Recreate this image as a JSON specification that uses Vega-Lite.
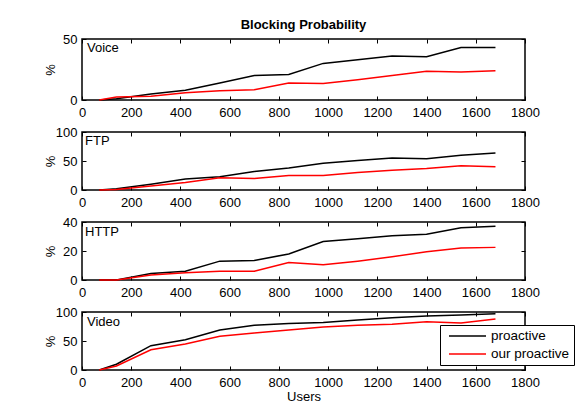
{
  "$schema": "https://vega.github.io/schema/vega-lite/v6.json",
  "padding": {"left": 43, "top": 18, "right": 0, "bottom": 0},
  "spacing": 5,
  "data": {"values": [
    {"service":"Voice","scheme":"proactive","users":70,"value":0},
    {"service":"Voice","scheme":"proactive","users":140,"value":1},
    {"service":"Voice","scheme":"proactive","users":280,"value":5},
    {"service":"Voice","scheme":"proactive","users":420,"value":8},
    {"service":"Voice","scheme":"proactive","users":560,"value":14},
    {"service":"Voice","scheme":"proactive","users":700,"value":20},
    {"service":"Voice","scheme":"proactive","users":840,"value":21},
    {"service":"Voice","scheme":"proactive","users":980,"value":30},
    {"service":"Voice","scheme":"proactive","users":1120,"value":33},
    {"service":"Voice","scheme":"proactive","users":1260,"value":36},
    {"service":"Voice","scheme":"proactive","users":1400,"value":35.5},
    {"service":"Voice","scheme":"proactive","users":1540,"value":43},
    {"service":"Voice","scheme":"proactive","users":1680,"value":43},
    {"service":"Voice","scheme":"our proactive","users":70,"value":0},
    {"service":"Voice","scheme":"our proactive","users":140,"value":2.5},
    {"service":"Voice","scheme":"our proactive","users":280,"value":3},
    {"service":"Voice","scheme":"our proactive","users":420,"value":6},
    {"service":"Voice","scheme":"our proactive","users":560,"value":7.5},
    {"service":"Voice","scheme":"our proactive","users":700,"value":8.5},
    {"service":"Voice","scheme":"our proactive","users":840,"value":14},
    {"service":"Voice","scheme":"our proactive","users":980,"value":13.5},
    {"service":"Voice","scheme":"our proactive","users":1120,"value":16.5},
    {"service":"Voice","scheme":"our proactive","users":1260,"value":20},
    {"service":"Voice","scheme":"our proactive","users":1400,"value":23.5},
    {"service":"Voice","scheme":"our proactive","users":1540,"value":23},
    {"service":"Voice","scheme":"our proactive","users":1680,"value":24},
    {"service":"FTP","scheme":"proactive","users":70,"value":0},
    {"service":"FTP","scheme":"proactive","users":140,"value":2},
    {"service":"FTP","scheme":"proactive","users":280,"value":10},
    {"service":"FTP","scheme":"proactive","users":420,"value":19},
    {"service":"FTP","scheme":"proactive","users":560,"value":23},
    {"service":"FTP","scheme":"proactive","users":700,"value":32},
    {"service":"FTP","scheme":"proactive","users":840,"value":38},
    {"service":"FTP","scheme":"proactive","users":980,"value":46},
    {"service":"FTP","scheme":"proactive","users":1120,"value":51},
    {"service":"FTP","scheme":"proactive","users":1260,"value":55},
    {"service":"FTP","scheme":"proactive","users":1400,"value":54},
    {"service":"FTP","scheme":"proactive","users":1540,"value":60},
    {"service":"FTP","scheme":"proactive","users":1680,"value":64},
    {"service":"FTP","scheme":"our proactive","users":70,"value":0},
    {"service":"FTP","scheme":"our proactive","users":140,"value":1},
    {"service":"FTP","scheme":"our proactive","users":280,"value":7},
    {"service":"FTP","scheme":"our proactive","users":420,"value":13},
    {"service":"FTP","scheme":"our proactive","users":560,"value":21},
    {"service":"FTP","scheme":"our proactive","users":700,"value":20},
    {"service":"FTP","scheme":"our proactive","users":840,"value":25},
    {"service":"FTP","scheme":"our proactive","users":980,"value":25},
    {"service":"FTP","scheme":"our proactive","users":1120,"value":30},
    {"service":"FTP","scheme":"our proactive","users":1260,"value":34},
    {"service":"FTP","scheme":"our proactive","users":1400,"value":37},
    {"service":"FTP","scheme":"our proactive","users":1540,"value":42},
    {"service":"FTP","scheme":"our proactive","users":1680,"value":40},
    {"service":"HTTP","scheme":"proactive","users":70,"value":0},
    {"service":"HTTP","scheme":"proactive","users":140,"value":0},
    {"service":"HTTP","scheme":"proactive","users":280,"value":4.5},
    {"service":"HTTP","scheme":"proactive","users":420,"value":6},
    {"service":"HTTP","scheme":"proactive","users":560,"value":13},
    {"service":"HTTP","scheme":"proactive","users":700,"value":13.5},
    {"service":"HTTP","scheme":"proactive","users":840,"value":18},
    {"service":"HTTP","scheme":"proactive","users":980,"value":26.5},
    {"service":"HTTP","scheme":"proactive","users":1120,"value":28.5},
    {"service":"HTTP","scheme":"proactive","users":1260,"value":30.5},
    {"service":"HTTP","scheme":"proactive","users":1400,"value":31.5},
    {"service":"HTTP","scheme":"proactive","users":1540,"value":36},
    {"service":"HTTP","scheme":"proactive","users":1680,"value":37},
    {"service":"HTTP","scheme":"our proactive","users":70,"value":0},
    {"service":"HTTP","scheme":"our proactive","users":140,"value":0},
    {"service":"HTTP","scheme":"our proactive","users":280,"value":3.5},
    {"service":"HTTP","scheme":"our proactive","users":420,"value":5},
    {"service":"HTTP","scheme":"our proactive","users":560,"value":6},
    {"service":"HTTP","scheme":"our proactive","users":700,"value":6},
    {"service":"HTTP","scheme":"our proactive","users":840,"value":12},
    {"service":"HTTP","scheme":"our proactive","users":980,"value":10.5},
    {"service":"HTTP","scheme":"our proactive","users":1120,"value":13},
    {"service":"HTTP","scheme":"our proactive","users":1260,"value":16},
    {"service":"HTTP","scheme":"our proactive","users":1400,"value":19.5},
    {"service":"HTTP","scheme":"our proactive","users":1540,"value":22},
    {"service":"HTTP","scheme":"our proactive","users":1680,"value":22.5},
    {"service":"Video","scheme":"proactive","users":70,"value":0},
    {"service":"Video","scheme":"proactive","users":140,"value":10},
    {"service":"Video","scheme":"proactive","users":280,"value":42},
    {"service":"Video","scheme":"proactive","users":420,"value":52},
    {"service":"Video","scheme":"proactive","users":560,"value":69},
    {"service":"Video","scheme":"proactive","users":700,"value":77},
    {"service":"Video","scheme":"proactive","users":840,"value":80},
    {"service":"Video","scheme":"proactive","users":980,"value":82},
    {"service":"Video","scheme":"proactive","users":1120,"value":86},
    {"service":"Video","scheme":"proactive","users":1260,"value":90},
    {"service":"Video","scheme":"proactive","users":1400,"value":93},
    {"service":"Video","scheme":"proactive","users":1540,"value":95},
    {"service":"Video","scheme":"proactive","users":1680,"value":97},
    {"service":"Video","scheme":"our proactive","users":70,"value":0},
    {"service":"Video","scheme":"our proactive","users":140,"value":7},
    {"service":"Video","scheme":"our proactive","users":280,"value":35},
    {"service":"Video","scheme":"our proactive","users":420,"value":45},
    {"service":"Video","scheme":"our proactive","users":560,"value":58},
    {"service":"Video","scheme":"our proactive","users":700,"value":64},
    {"service":"Video","scheme":"our proactive","users":840,"value":69},
    {"service":"Video","scheme":"our proactive","users":980,"value":74},
    {"service":"Video","scheme":"our proactive","users":1120,"value":77},
    {"service":"Video","scheme":"our proactive","users":1260,"value":79},
    {"service":"Video","scheme":"our proactive","users":1400,"value":83},
    {"service":"Video","scheme":"our proactive","users":1540,"value":81},
    {"service":"Video","scheme":"our proactive","users":1680,"value":88}
  ]},
  "resolve": {"legend": {"color": "independent"}},
  "vconcat": [
    {
      "width": 443, "height": 61,
      "title": {"text": "Blocking Probability", "frame": "group", "anchor": "middle", "fontSize": 13, "fontWeight": "bold", "font": "Liberation Sans", "color": "black", "offset": 1},
      "resolve": {"axis": {"x": "independent", "y": "independent"}},
      "layer": [
        {
          "transform": [{"filter": "datum.service === 'Voice'"}],
          "mark": {"type": "line", "strokeWidth": 1.5},
          "encoding": {
            "x": {"field": "users", "type": "quantitative", "scale": {"domain": [0, 1800]}, "axis": {"values": [0,200,400,600,800,1000,1200,1400,1600,1800], "format": "d", "labelPadding": 10, "title": null}},
            "y": {"field": "value", "type": "quantitative", "scale": {"domain": [0, 50]}, "axis": {"values": [0, 50], "labelPadding": 9, "title": "%", "minExtent": 25, "maxExtent": 25, "titlePadding": 0}},
            "color": {"field": "scheme", "type": "nominal", "scale": {"domain": ["proactive", "our proactive"], "range": ["black", "red"]}, "legend": null}
          }
        },
        {
          "data": {"values": [{"label": "Voice"}]},
          "mark": {"type": "text", "align": "left", "baseline": "top", "dx": 5, "dy": 3, "fontSize": 13, "font": "Liberation Sans", "color": "black"},
          "encoding": {
            "x": {"datum": 0, "type": "quantitative", "axis": {"orient": "top", "values": [0,200,400,600,800,1000,1200,1400,1600,1800], "labels": false, "title": null}},
            "y": {"datum": 50, "type": "quantitative", "axis": {"orient": "right", "values": [0, 50], "labels": false, "title": null}},
            "text": {"field": "label"}
          }
        }
      ]
    },
    {
      "width": 443, "height": 58,
      "resolve": {"axis": {"x": "independent", "y": "independent"}},
      "layer": [
        {
          "transform": [{"filter": "datum.service === 'FTP'"}],
          "mark": {"type": "line", "strokeWidth": 1.5},
          "encoding": {
            "x": {"field": "users", "type": "quantitative", "scale": {"domain": [0, 1800]}, "axis": {"values": [0,200,400,600,800,1000,1200,1400,1600,1800], "format": "d", "labelPadding": 10, "title": null}},
            "y": {"field": "value", "type": "quantitative", "scale": {"domain": [0, 100]}, "axis": {"values": [0, 50, 100], "labelPadding": 9, "title": "%", "minExtent": 25, "maxExtent": 25, "titlePadding": 0}},
            "color": {"field": "scheme", "type": "nominal", "scale": {"domain": ["proactive", "our proactive"], "range": ["black", "red"]}, "legend": null}
          }
        },
        {
          "data": {"values": [{"label": "FTP"}]},
          "mark": {"type": "text", "align": "left", "baseline": "top", "dx": 3, "dy": 3, "fontSize": 13, "font": "Liberation Sans", "color": "black"},
          "encoding": {
            "x": {"datum": 0, "type": "quantitative", "axis": {"orient": "top", "values": [0,200,400,600,800,1000,1200,1400,1600,1800], "labels": false, "title": null}},
            "y": {"datum": 100, "type": "quantitative", "axis": {"orient": "right", "values": [0, 50, 100], "labels": false, "title": null}},
            "text": {"field": "label"}
          }
        }
      ]
    },
    {
      "width": 443, "height": 58,
      "resolve": {"axis": {"x": "independent", "y": "independent"}},
      "layer": [
        {
          "transform": [{"filter": "datum.service === 'HTTP'"}],
          "mark": {"type": "line", "strokeWidth": 1.5},
          "encoding": {
            "x": {"field": "users", "type": "quantitative", "scale": {"domain": [0, 1800]}, "axis": {"values": [0,200,400,600,800,1000,1200,1400,1600,1800], "format": "d", "labelPadding": 10, "title": null}},
            "y": {"field": "value", "type": "quantitative", "scale": {"domain": [0, 40]}, "axis": {"values": [0, 20, 40], "labelPadding": 9, "title": "%", "minExtent": 25, "maxExtent": 25, "titlePadding": 0}},
            "color": {"field": "scheme", "type": "nominal", "scale": {"domain": ["proactive", "our proactive"], "range": ["black", "red"]}, "legend": null}
          }
        },
        {
          "data": {"values": [{"label": "HTTP"}]},
          "mark": {"type": "text", "align": "left", "baseline": "top", "dx": 3, "dy": 4, "fontSize": 13, "font": "Liberation Sans", "color": "black"},
          "encoding": {
            "x": {"datum": 0, "type": "quantitative", "axis": {"orient": "top", "values": [0,200,400,600,800,1000,1200,1400,1600,1800], "labels": false, "title": null}},
            "y": {"datum": 40, "type": "quantitative", "axis": {"orient": "right", "values": [0, 20, 40], "labels": false, "title": null}},
            "text": {"field": "label"}
          }
        }
      ]
    },
    {
      "width": 443, "height": 58,
      "resolve": {"axis": {"x": "independent", "y": "independent"}},
      "layer": [
        {
          "transform": [{"filter": "datum.service === 'Video'"}],
          "mark": {"type": "line", "strokeWidth": 1.5},
          "encoding": {
            "x": {"field": "users", "type": "quantitative", "scale": {"domain": [0, 1800]}, "axis": {"values": [0,200,400,600,800,1000,1200,1400,1600,1800], "format": "d", "labelPadding": 10, "title": "Users", "titlePadding": 1}},
            "y": {"field": "value", "type": "quantitative", "scale": {"domain": [0, 100]}, "axis": {"values": [0, 50, 100], "labelPadding": 9, "title": "%", "minExtent": 25, "maxExtent": 25, "titlePadding": 0}},
            "color": {"field": "scheme", "type": "nominal", "scale": {"domain": ["proactive", "our proactive"], "range": ["black", "red"]},
              "legend": {"orient": "none", "legendX": 358, "legendY": 13, "title": null, "symbolType": "stroke", "symbolSize": 1369, "symbolStrokeWidth": 1.5, "symbolOffset": 4, "labelFontSize": 13.5, "labelFont": "Liberation Sans", "labelColor": "black", "strokeColor": "black", "fillColor": "white", "padding": 4, "labelOffset": 4, "rowPadding": 4, "offset": 0,
                "encode": {"symbols": {"update": {"y": {"value": 7}}}, "labels": {"update": {"y": {"value": 7}}}}}}
          }
        },
        {
          "data": {"values": [{"label": "Video"}]},
          "mark": {"type": "text", "align": "left", "baseline": "top", "dx": 5, "dy": 4, "fontSize": 13, "font": "Liberation Sans", "color": "black"},
          "encoding": {
            "x": {"datum": 0, "type": "quantitative", "axis": {"orient": "top", "values": [0,200,400,600,800,1000,1200,1400,1600,1800], "labels": false, "title": null}},
            "y": {"datum": 100, "type": "quantitative", "axis": {"orient": "right", "values": [0, 50, 100], "labels": false, "title": null}},
            "text": {"field": "label"}
          }
        }
      ]
    }
  ],
  "config": {
    "font": "Liberation Sans",
    "view": {"stroke": "black", "strokeWidth": 1.5},
    "axis": {"domain": false, "grid": false, "tickColor": "black", "tickSize": -4, "tickWidth": 1, "labelFont": "Liberation Sans", "labelFontSize": 13, "labelColor": "black", "labelFlush": false, "labelOverlap": false, "titleFont": "Liberation Sans", "titleFontSize": 13, "titleFontWeight": "normal", "titleColor": "black"}
  }
}
